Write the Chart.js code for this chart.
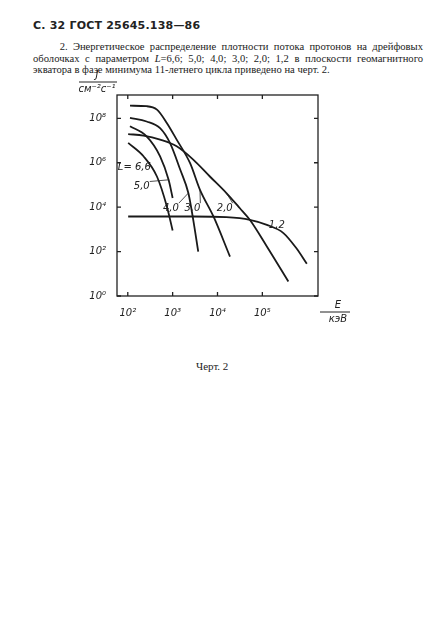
<!DOCTYPE html>
<html>
<head>
<meta charset="utf-8">
<script src="https://cdn.jsdelivr.net/npm/chart.js@4"></script>
<style>
  body { margin: 0; width: 430px; height: 633px; background: #fff; position: relative; font-family: "Liberation Serif", serif; color: #222; }
  .hdr { position: absolute; left: 33px; top: 19px; font: bold 11px "DejaVu Sans", sans-serif; letter-spacing: 0.2px; }
  .par { position: absolute; left: 33px; top: 41px; width: 390px; font-size: 10.6px; line-height: 11.5px; text-align: justify; }
  .cap { position: absolute; left: 196px; top: 360px; font-size: 11px; }
  #box { position: absolute; left: 60px; top: 60px; width: 290px; height: 280px; }
</style>
</head>
<body>
<div class="hdr">С. 32 ГОСТ 25645.138—86</div>
<div class="par">&nbsp;&nbsp;&nbsp;&nbsp;&nbsp;2. Энергетическое распределение плотности потока протонов на дрейфовых оболочках с параметром <i>L</i>=6,6; 5,0; 4,0; 3,0; 2,0; 1,2 в плоскости геомагнитного экватора в фазе минимума 11-летнего цикла приведено на черт. 2.</div>
<div class="cap">Черт. 2</div>
<div id="box"><canvas id="chart"></canvas></div>
<script>
// energy E, keV and flux J, cm^-2 s^-1
const e66 = [102, 224, 447, 741, 1000];
const j66 = [7.8e6, 1.95e6, 2.4e5, 1.1e4, 890];
const e50 = [112, 263, 525, 813, 1000];
const j50 = [4.4e7, 1.55e7, 1.95e6, 1.7e5, 2.6e4];
const e40 = [112, 263, 525, 871, 1480, 2240, 2880, 3720];
const j40 = [1.05e8, 7.2e7, 3.6e7, 7.8e6, 4.8e5, 4.3e4, 2.7e3, 100];
const e30 = [112, 263, 447, 741, 1230, 2450, 4070, 8130, 19000];
const j30 = [3.7e8, 3.5e8, 2.45e8, 6.2e7, 1.1e7, 9.5e5, 6e4, 3.8e3, 59];
const e20 = [102, 224, 525, 1230, 2880, 6760, 15800, 31600, 52500, 126000, 380000];
const j20 = [1.95e7, 1.66e7, 1.1e7, 5.5e6, 1.38e6, 2.4e5, 4.3e4, 8.9e3, 2.7e3, 170, 4.5];
const e12 = [102, 525, 2880, 15800, 52500, 126000, 295000, 575000, 980000];
const j12 = [3.8e3, 3.8e3, 3.8e3, 3.55e3, 2.7e3, 1.6e3, 680, 140, 28];
const xTicks = [100, 1000, 10000, 100000];
const yTicks = [1, 100, 1e4, 1e6, 1e8];
const sup = { 0: "⁰", 2: "²", 3: "³", 4: "⁴", 5: "⁵", 6: "⁶", 8: "⁸" };
const tickText = v => "10" + sup[Math.round(Math.log10(v))];

// curve labels: text position and optional leader end, in data coords
const curveLabels = [
  { t: "L= 6,6", x: 140, y: 6.2e5 },
  { t: "5,0", x: 205, y: 8.5e4, lx: 812, ly: 1.7e5 },
  { t: "4,0", x: 912, y: 9e3, lx: 2240, ly: 4.3e4 },
  { t: "3,0", x: 2750, y: 9e3, lx: 4070, ly: 6e4 },
  { t: "2,0", x: 14500, y: 9e3, lx: 15800, ly: 4.3e4 },
  { t: "1,2", x: 210000, y: 1.5e3 },
];

const pts = (e, j) => e.map((v, i) => ({ x: v, y: j[i] }));
const series = [[e66, j66], [e50, j50], [e40, j40], [e30, j30], [e20, j20], [e12, j12]];

const frame = {
  id: "frame",
  afterDraw(c) {
    const { ctx, chartArea: a, scales: { x, y } } = c;
    ctx.save();
    ctx.strokeStyle = "#222";
    ctx.lineWidth = 1.3;
    ctx.strokeRect(a.left, a.top, a.right - a.left, a.bottom - a.top);
    ctx.beginPath();
    xTicks.forEach(v => {
      const p = x.getPixelForValue(v);
      ctx.moveTo(p, a.bottom); ctx.lineTo(p, a.bottom - 4);
      ctx.moveTo(p, a.top); ctx.lineTo(p, a.top + 4);
    });
    yTicks.forEach(v => {
      const p = y.getPixelForValue(v);
      ctx.moveTo(a.left, p); ctx.lineTo(a.left + 4, p);
      ctx.moveTo(a.right, p); ctx.lineTo(a.right - 4, p);
    });
    ctx.stroke();
    ctx.fillStyle = "#222";
    ctx.font = "italic 10px 'DejaVu Sans'";
    ctx.lineWidth = 0.8;
    curveLabels.forEach(l => {
      const px = x.getPixelForValue(l.x), py = y.getPixelForValue(l.y);
      ctx.textAlign = "center"; ctx.textBaseline = "middle";
      ctx.fillText(l.t, px, py);
      if (l.lx) {
        ctx.beginPath();
        ctx.moveTo(px + 8, py - 5);
        ctx.lineTo(x.getPixelForValue(l.lx), y.getPixelForValue(l.ly));
        ctx.stroke();
      }
    });
    // axis titles
    ctx.lineWidth = 1;
    ctx.textAlign = "center";
    ctx.fillText("J", a.left - 20, a.top - 20);
    ctx.fillText("см⁻²с⁻¹", a.left - 20, a.top - 6);
    ctx.beginPath(); ctx.moveTo(a.left - 38, a.top - 13); ctx.lineTo(a.left, a.top - 13); ctx.stroke();
    ctx.fillText("E", a.right + 20, a.bottom + 9);
    ctx.fillText("кэВ", a.right + 20, a.bottom + 23);
    ctx.beginPath(); ctx.moveTo(a.right + 2, a.bottom + 16); ctx.lineTo(a.right + 40, a.bottom + 16); ctx.stroke();
    ctx.restore();
  },
};

new Chart(document.getElementById("chart"), {
  type: "scatter",
  data: {
    datasets: series.map(([e, j]) => ({
      data: pts(e, j),
      showLine: true,
      cubicInterpolationMode: "monotone",
      borderColor: "#1a1a1a",
      borderWidth: 1.8,
      pointRadius: 0,
    })),
  },
  options: {
    responsive: true,
    maintainAspectRatio: false,
    animation: false,
    layout: { padding: { left: 17, right: 32, top: 35, bottom: 14 } },
    plugins: { legend: { display: false }, tooltip: { enabled: false } },
    scales: {
      x: {
        type: "logarithmic",
        min: 57.5, max: 1.74e6,
        afterFit: s => { s.height = 30; },
        afterBuildTicks: s => { s.ticks = xTicks.map(v => ({ value: v })); },
        grid: { display: false },
        border: { display: false },
        ticks: { color: "#222", font: { family: "DejaVu Sans", style: "italic", size: 10 }, callback: tickText, autoSkip: false, maxRotation: 0 },
      },
      y: {
        type: "logarithmic",
        min: 1, max: 1.12e9,
        afterFit: s => { s.width = 40; },
        afterBuildTicks: s => { s.ticks = yTicks.map(v => ({ value: v })); },
        grid: { display: false },
        border: { display: false },
        ticks: { color: "#222", font: { family: "DejaVu Sans", style: "italic", size: 10 }, callback: tickText, autoSkip: false },
      },
    },
  },
  plugins: [frame],
});
</script>
</body>
</html>
